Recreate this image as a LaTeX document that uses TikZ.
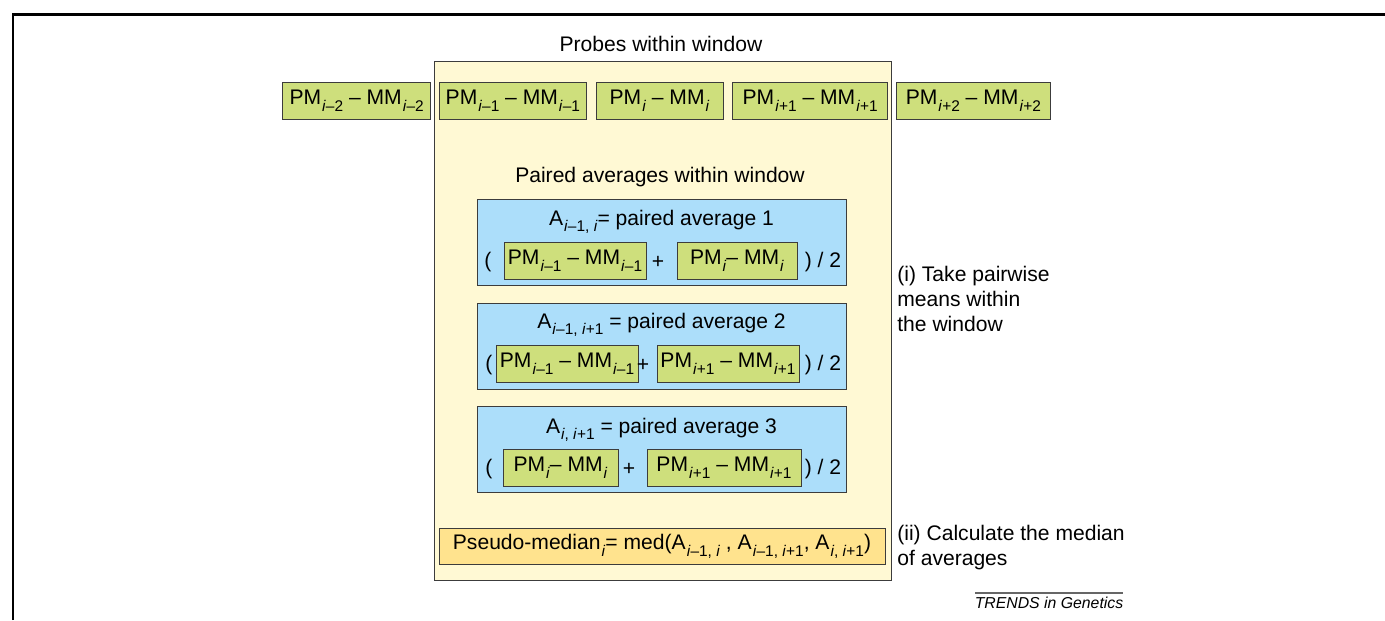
\documentclass[tikz,border=0pt]{standalone}
\usepackage{fontspec}
\setmainfont{Liberation Sans}
\usepackage{tikz}
\usetikzlibrary{positioning}

\definecolor{probegreen}{RGB}{206,223,124}
\definecolor{pairblue}{RGB}{172,222,250}
\definecolor{windowyellow}{RGB}{255,249,212}
\definecolor{medorange}{RGB}{255,227,142}
\definecolor{edgegray}{RGB}{60,60,60}

\newcommand{\sbs}[1]{\kern.05em\raisebox{-0.32em}{\fontsize{8.8}{10}\selectfont #1}}
\newcommand{\ix}{\textit{i}}
\newcommand{\pmmm}[1]{PM\sbs{#1} -- MM\sbs{#1}}

\tikzset{
  probe/.style={draw=edgegray, fill=probegreen, minimum height=0.74cm, inner sep=2pt},
  pair/.style={draw=edgegray, fill=pairblue, minimum width=7.38cm, minimum height=1.72cm},
  note/.style={anchor=north west, inner sep=0pt, align=left},
}

\begin{document}
\begin{tikzpicture}[x=0.02cm, y=-0.02cm, font=\fontsize{12}{14.2}\selectfont]
        \useasboundingbox (0,0) rectangle (1385,620);
        %frame
        \draw[line width=1.7pt] (13,620) -- (13,14) -- (1385,14);

        %window
        \node[draw=edgegray, fill=windowyellow, minimum width=9.14cm, minimum height=10.38cm] (win) at (662.5,320.5) {};
        \node[anchor=base] (wtitle) at (661,51) {Probes within window};

        %probes
        \node[probe, minimum width=2.54cm] (p0) at (659.5,100.5) {\pmmm{\ix}};
        \node[probe, minimum width=2.94cm, left=0.18cm of p0] (pm1) {\pmmm{\ix--1}};
        \node[probe, minimum width=2.96cm, left=0.16cm of pm1] (pm2) {\pmmm{\ix--2}};
        \node[probe, minimum width=3.1cm, right=0.18cm of p0] (pp1) {\pmmm{\ix+1}};
        \node[probe, minimum width=3.08cm, right=0.16cm of pp1] (pp2) {\pmmm{\ix+2}};

        \node[anchor=base] (ptitle) at (660,182) {Paired averages within window};

        %average 1
        \node[pair] (avg1) at (661.5,242) {};
        \node[anchor=base] (avg1t) at (661.5,225) {A\sbs{\ix--1,\ \ix}= paired average 1};
        \node (avg1l) at (488,262) {(};
        \node[probe, minimum width=2.84cm] (avg1a) at (575,260.5) {\pmmm{\ix--1}};
        \node (avg1p) at (658,262) {+};
        \node[probe, minimum width=2.4cm] (avg1b) at (737,260.5) {PM\sbs{\ix}-- MM\sbs{\ix}};
        \node (avg1r) at (823,262) {) / 2};

        %average 2
        \node[pair] (avg2) at (661.5,346) {};
        \node[anchor=base] (avg2t) at (661.5,328) {A\sbs{\ix--1,\ \ix+1} = paired average 2};
        \node (avg2l) at (489,365.5) {(};
        \node[probe, minimum width=2.84cm] (avg2a) at (567,364) {\pmmm{\ix--1}};
        \node (avg2p) at (643,365.5) {+};
        \node[probe, minimum width=2.84cm] (avg2b) at (728,364) {\pmmm{\ix+1}};
        \node (avg2r) at (823,365.5) {) / 2};

        %average 3
        \node[pair] (avg3) at (661.5,449.5) {};
        \node[anchor=base] (avg3t) at (661.5,433) {A\sbs{\ix,\ \ix+1} = paired average 3};
        \node (avg3l) at (489,469) {(};
        \node[probe, minimum width=2.3cm] (avg3a) at (560.5,467.5) {PM\sbs{\ix}-- MM\sbs{\ix}};
        \node (avg3p) at (629,469) {+};
        \node[probe, minimum width=3.08cm] (avg3b) at (724,467.5) {\pmmm{\ix+1}};
        \node (avg3r) at (823,469) {) / 2};

        %median
        \node[draw=edgegray, fill=medorange, minimum width=8.92cm, minimum height=0.72cm, inner sep=2pt] (med) at (662,546)
          {Pseudo-median\sbs{\ix}= med(A\sbs{\ix--1,\ \ix}\ , A\sbs{\ix--1,\ \ix+1}, A\sbs{\ix,\ \ix+1})};

        %steps
        \node[note] (stepi) at (897,266) {(i) Take pairwise\\means within\\the window};
        \node[note] (stepii) at (897,525) {(ii) Calculate the median\\of averages};

        %journal tag
        \coordinate (rule1) at (975,593);
        \coordinate (rule2) at (1123,593);
        \draw[black!60, line width=0.6pt] (rule1) -- (rule2);
        \node[font=\fontsize{9}{10}\selectfont\itshape, anchor=base] (tag) at (1049,608) {TRENDS in Genetics};
        \end{tikzpicture}
\end{document}
